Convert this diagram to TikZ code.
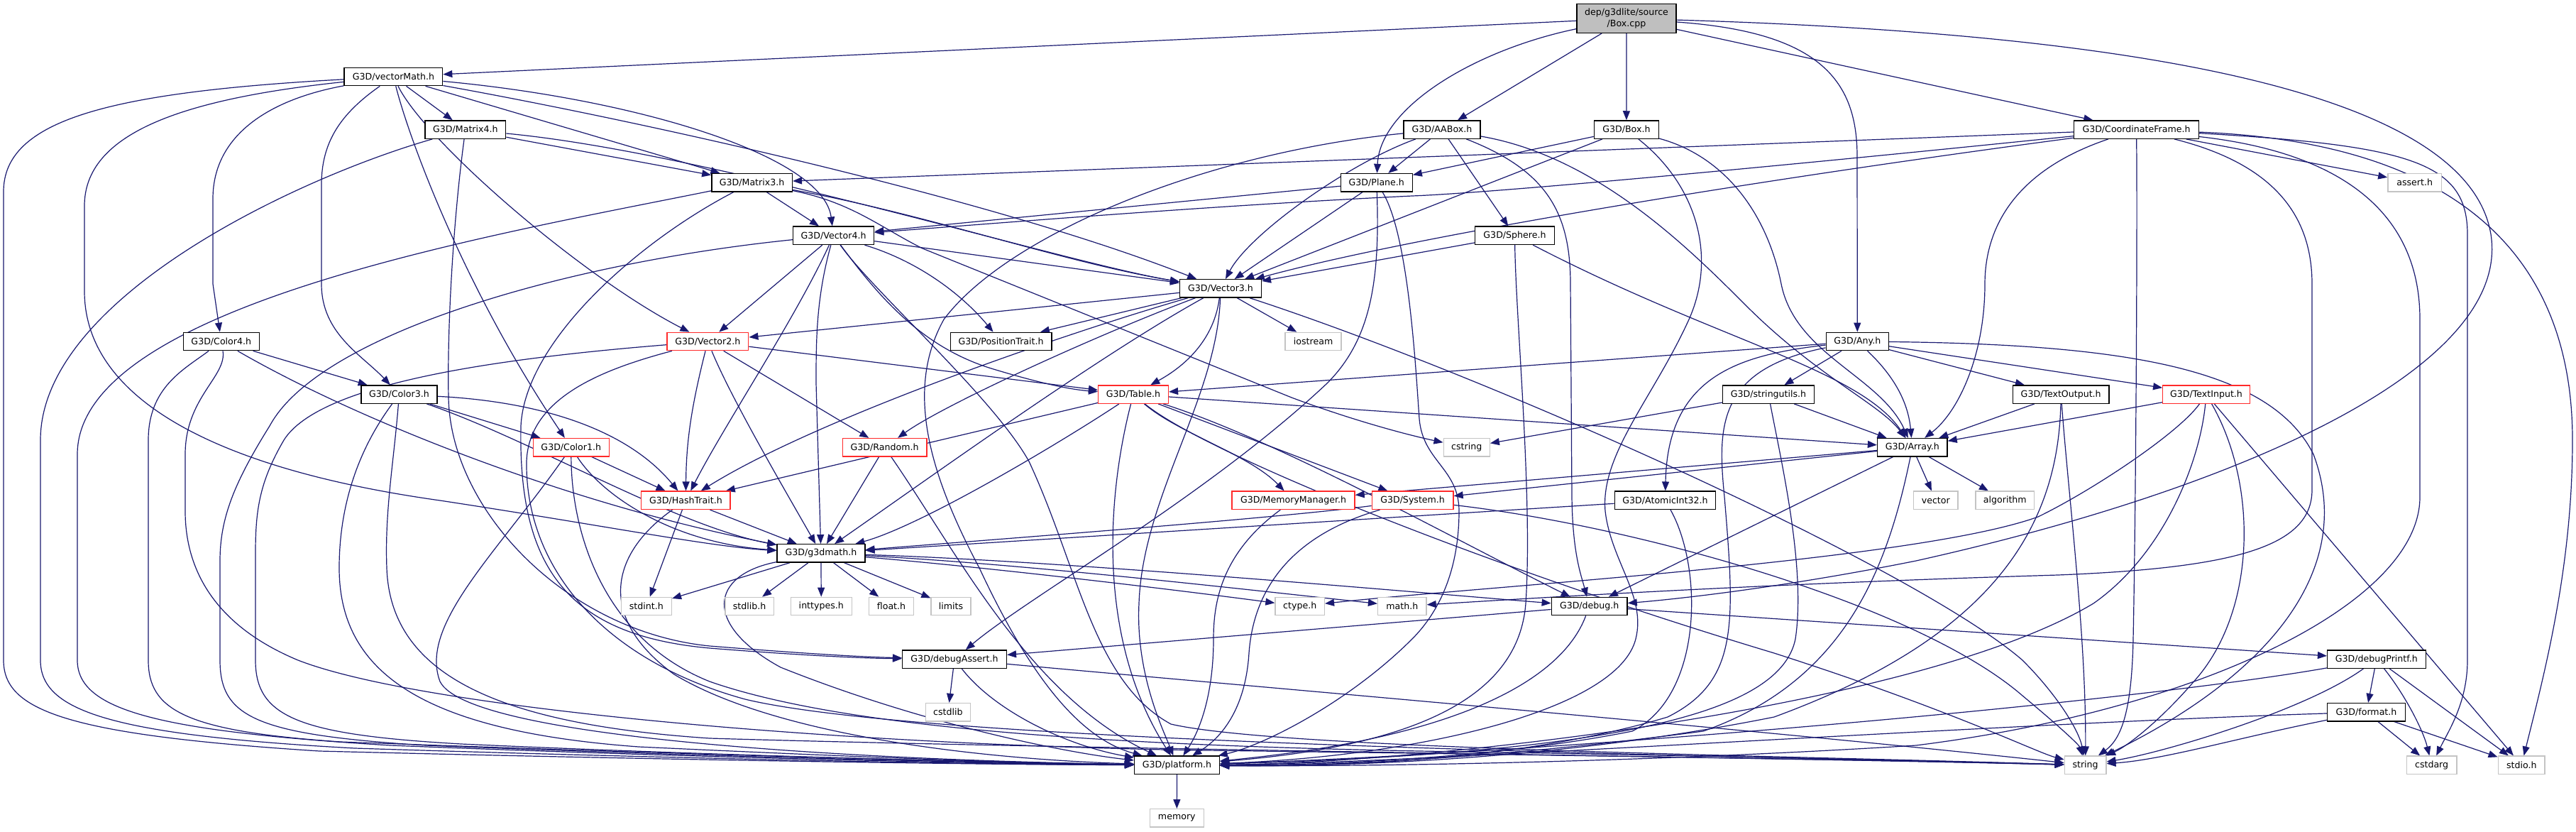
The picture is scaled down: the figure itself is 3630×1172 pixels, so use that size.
\documentclass[tikz,border=0pt]{standalone}
\usepackage{fontspec}
\newfontfamily\gfont{DejaVu Sans}
\usetikzlibrary{arrows.meta}
\definecolor{edgec}{HTML}{191970}
\definecolor{redb}{HTML}{FF2A2A}
\definecolor{lgray}{HTML}{C4C4C4}
\definecolor{rootgray}{HTML}{BFBFBF}
\pgfdeclarelayer{bgl}
\pgfdeclarelayer{edgel}
\pgfsetlayers{bgl,edgel,main}
\tikzset{
  nb/.style={draw=black, fill=white, line width=0.7pt, inner sep=0pt, minimum height=12.65pt,
    font=\gfont\fontsize{6.3pt}{7.6pt}\selectfont},
  rb/.style={nb, draw=redb},
  gb/.style={nb, draw=lgray},
  rootb/.style={nb, fill=rootgray, minimum height=20.3pt, align=center},
  bw/.style={minimum width=#1*0.5pt},
  lnk/.style={draw=edgec, line width=0.6pt, -{Triangle[length=6.5pt,width=5pt]}}
}
\begin{document}
\begin{tikzpicture}[x=0.5pt,y=-0.5pt]
\begin{pgfonlayer}{bgl}
\fill[white] (0,0) rectangle (3630,1172);
\end{pgfonlayer}
\useasboundingbox (0,0) rectangle (3630,1172);
% ---------------- nodes ----------------
\node[rootb, bw=140] (root) at (2292,26) {dep/g3dlite/source\\/Box.cpp};
\node[nb, bw=138.5] (vm) at (554.4,108) {G3D/vectorMath.h};
\node[nb, bw=113.6] (m4) at (655.9,182.6) {G3D/Matrix4.h};
\node[nb, bw=108] (aab) at (2031.9,182.6) {G3D/AABox.h};
\node[nb, bw=91] (bx) at (2291.9,182.6) {G3D/Box.h};
\node[nb, bw=175.7] (cf) at (3010.5,182.6) {G3D/CoordinateFrame.h};
\node[nb, bw=113.5] (m3) at (1059.6,257.2) {G3D/Matrix3.h};
\node[nb, bw=100.8] (pl) at (1939.8,257.2) {G3D/Plane.h};
\node[gb, bw=75.5] (ast) at (3402.6,257.2) {assert.h};
\node[nb, bw=114] (v4) at (1174.6,331.8) {G3D/Vector4.h};
\node[nb, bw=111.5] (sph) at (2134.5,331.8) {G3D/Sphere.h};
\node[nb, bw=114.7] (v3) at (1720,406.4) {G3D/Vector3.h};
\node[nb, bw=107.2] (c4) at (311.8,481) {G3D/Color4.h};
\node[rb, bw=114.7] (v2) at (997.4,481) {G3D/Vector2.h};
\node[nb, bw=142.7] (pt) at (1410.6,481) {G3D/PositionTrait.h};
\node[gb, bw=79] (ios) at (1850.6,481) {iostream};
\node[nb, bw=88.2] (any) at (2617.3,481) {G3D/Any.h};
\node[nb, bw=107] (c3) at (562.5,555.6) {G3D/Color3.h};
\node[rb, bw=98.8] (tbl) at (1597,555.6) {G3D/Table.h};
\node[nb, bw=128.5] (su) at (2492,555.6) {G3D/stringutils.h};
\node[nb, bw=135.2] (to) at (2904.2,555.6) {G3D/TextOutput.h};
\node[rb, bw=122.5] (ti) at (3109,555.6) {G3D/TextInput.h};
\node[rb, bw=106.8] (c1) at (804.8,630.2) {G3D/Color1.h};
\node[rb, bw=118.8] (rnd) at (1246.6,630.2) {G3D/Random.h};
\node[gb, bw=65] (cstr) at (2066.7,630.2) {cstring};
\node[nb, bw=98.5] (arr) at (2694.8,630.2) {G3D/Array.h};
\node[rb, bw=125.3] (ht) at (966.4,704.8) {G3D/HashTrait.h};
\node[rb, bw=173] (mm) at (1822.5,704.8) {G3D/MemoryManager.h};
\node[rb, bw=114.7] (sys) at (1990.6,704.8) {G3D/System.h};
\node[nb, bw=142.3] (ai) at (2346.5,704.8) {G3D/AtomicInt32.h};
\node[gb, bw=62.5] (vec) at (2727.8,704.8) {vector};
\node[gb, bw=82.6] (alg) at (2825.3,704.8) {algorithm};
\node[nb, bw=123.8] (gm) at (1156.9,779.4) {G3D/g3dmath.h};
\node[gb, bw=71.2] (sint) at (910.8,854) {stdint.h};
\node[gb, bw=68.4] (slib) at (1056.1,854) {stdlib.h};
\node[gb, bw=85.8] (ity) at (1157.3,854) {inttypes.h};
\node[gb, bw=62.9] (flt) at (1256,854) {float.h};
\node[gb, bw=56.1] (lim) at (1340,854) {limits};
\node[gb, bw=69.3] (cty) at (1831.7,854) {ctype.h};
\node[gb, bw=68.4] (mth) at (1975.8,854) {math.h};
\node[nb, bw=106.8] (dbg) at (2239.7,854) {G3D/debug.h};
\node[nb, bw=146.7] (da) at (1345,928.6) {G3D/debugAssert.h};
\node[nb, bw=138.6] (dp) at (3348.9,928.6) {G3D/debugPrintf.h};
\node[gb, bw=62.9] (csl) at (1335.9,1003.2) {cstdlib};
\node[nb, bw=109.7] (fmt) at (3334.5,1003.2) {G3D/format.h};
\node[nb, bw=119.8] (pf) at (1658.5,1077.8) {G3D/platform.h};
\node[gb, bw=58.5] (str) at (2938.6,1077.8) {string};
\node[gb, bw=70.7] (cda) at (3426.6,1077.8) {cstdarg};
\node[gb, bw=65.9] (sio) at (3553.2,1077.8) {stdio.h};
\node[gb, bw=75.9] (mem) at (1658.3,1152.4) {memory};
% ---------------- edges ----------------
\begin{pgfonlayer}{edgel}
% root
\draw[lnk] (root) -- (vm);
\draw[lnk] (root) -- (aab);
\draw[lnk] (root) .. controls (2080,70) and (1945,150) .. (pl);
\draw[lnk] (root) -- (bx);
\draw[lnk] (root) .. controls (2560,45) and (2617,110) .. (2617,220) -- (any);
\draw[lnk] (root) -- (cf);
\draw[lnk] (root) .. controls (3100,50) and (3480,150) .. (3510,330) .. controls (3540,520) and (3150,690) .. (2700,790) .. controls (2500,830) and (2350,845) .. (dbg);
% vectorMath
\draw[lnk] (vm) .. controls (150,130) and (5,170) .. (5,270) -- (5,930) .. controls (5,1000) and (90,1035) .. (450,1058) .. controls (1000,1072) and (1400,1077) .. (pf);
\draw[lnk] (vm) .. controls (250,140) and (119,190) .. (119,290) -- (119,410) .. controls (119,560) and (300,660) .. (620,705) .. controls (850,740) and (1000,770) .. (gm);
\draw[lnk] (vm) .. controls (380,140) and (300,190) .. (300,280) -- (300,400) -- (c4);
\draw[lnk] (vm) .. controls (480,160) and (453,200) .. (453,260) -- (453,400) .. controls (453,470) and (510,500) .. (c3);
\draw[lnk] (vm) .. controls (575,190) and (650,400) .. (c1);
\draw[lnk] (vm) .. controls (600,200) and (820,390) .. (v2);
\draw[lnk] (vm) -- (m4);
\draw[lnk] (vm) -- (m3);
\draw[lnk] (vm) .. controls (900,140) and (1160,220) .. (v4);
\draw[lnk] (vm) .. controls (900,170) and (1400,280) .. (v3);
% Matrix4
\draw[lnk] (m4) .. controls (420,250) and (57,420) .. (57,620) -- (57,930) .. controls (57,1000) and (150,1035) .. (500,1054) .. controls (1000,1070) and (1400,1077) .. (pf);
\draw[lnk] (m4) .. controls (640,300) and (630,450) .. (632,560) .. controls (635,720) and (800,890) .. (1000,910) .. controls (1100,918) and (1200,925) .. (da);
\draw[lnk] (m4) -- (m3);
\draw[lnk] (m4) .. controls (1000,215) and (1500,370) .. (v3);
% Matrix3
\draw[lnk] (m3) .. controls (700,330) and (109,430) .. (109,640) -- (109,930) .. controls (109,1000) and (220,1030) .. (550,1050) .. controls (1000,1068) and (1400,1076) .. (pf);
\draw[lnk] (m3) -- (v4);
\draw[lnk] (m3) .. controls (1300,300) and (1500,370) .. (v3);
\draw[lnk] (m3) .. controls (1200,285) and (1240,320) .. (1300,350) -- (1820,560) .. controls (1900,590) and (1980,612) .. (cstr);
\draw[lnk] (m3) .. controls (900,340) and (740,480) .. (734,600) .. controls (730,800) and (800,895) .. (1000,913) .. controls (1100,921) and (1200,927) .. (da);
% Vector4
\draw[lnk] (v4) .. controls (800,370) and (450,470) .. (380,600) .. controls (330,680) and (310,730) .. (310,790) -- (310,930) .. controls (310,1010) and (360,1035) .. (600,1050) .. controls (1000,1066) and (1400,1075) .. (pf);
\draw[lnk] (v4) -- (v2);
\draw[lnk] (v4) .. controls (1120,450) and (1020,600) .. (ht);
\draw[lnk] (v4) .. controls (1150,420) and (1150,480) .. (1150,540) -- (gm);
\draw[lnk] (v4) -- (v3);
\draw[lnk] (v4) .. controls (1300,370) and (1360,420) .. (pt);
\draw[lnk] (v4) .. controls (1240,420) and (1300,490) .. (1400,520) .. controls (1450,535) and (1500,548) .. (tbl);
\draw[lnk] (v4) .. controls (1230,410) and (1400,560) .. (1450,650) .. controls (1520,800) and (1540,960) .. (1650,1020) .. controls (1800,1055) and (2500,1064) .. (str);
% Vector3
\draw[lnk] (v3) -- (v2);
\draw[lnk] (v3) -- (pt);
\draw[lnk] (v3) .. controls (1500,470) and (1150,590) .. (ht);
\draw[lnk] (v3) .. controls (1550,470) and (1330,570) .. (rnd);
\draw[lnk] (v3) .. controls (1550,500) and (1300,680) .. (gm);
\draw[lnk] (v3) .. controls (1712,470) and (1680,510) .. (tbl);
\draw[lnk] (v3) .. controls (1715,560) and (1610,700) .. (1605,850) .. controls (1600,950) and (1640,1030) .. (pf);
\draw[lnk] (v3) -- (ios);
\draw[lnk] (v3) .. controls (2100,530) and (2700,800) .. (2850,930) .. controls (2900,980) and (2930,1030) .. (str);
% Vector2
\draw[lnk] (v2) -- (tbl);
\draw[lnk] (v2) -- (rnd);
\draw[lnk] (v2) .. controls (1030,560) and (1100,680) .. (gm);
\draw[lnk] (v2) .. controls (975,570) and (967,620) .. (ht);
\draw[lnk] (v2) .. controls (700,505) and (450,540) .. (400,620) .. controls (365,680) and (360,720) .. (360,780) -- (360,930) .. controls (360,1010) and (420,1035) .. (650,1048) .. controls (1000,1064) and (1400,1074) .. (pf);
\draw[lnk] (v2) .. controls (850,520) and (745,560) .. (742,650) .. controls (740,800) and (850,930) .. (1050,985) .. controls (1300,1045) and (2300,1062) .. (str);
% Color4
\draw[lnk] (c4) .. controls (260,520) and (209,545) .. (209,620) -- (209,930) .. controls (209,1000) and (260,1030) .. (480,1045) .. controls (1000,1064) and (1400,1074) .. (pf);
\draw[lnk] (c4) .. controls (320,530) and (261,560) .. (261,640) -- (261,720) .. controls (261,800) and (300,880) .. (420,930) .. controls (600,1000) and (1200,1050) .. (1700,1057) .. controls (2300,1065) and (2700,1072) .. (str);
\draw[lnk] (c4) .. controls (500,590) and (800,710) .. (gm);
\draw[lnk] (c4) -- (c3);
% Color3
\draw[lnk] (c3) -- (c1);
\draw[lnk] (c3) .. controls (750,565) and (880,600) .. (ht);
\draw[lnk] (c3) .. controls (750,620) and (950,740) .. (gm);
\draw[lnk] (c3) .. controls (500,640) and (478,720) .. (478,800) .. controls (478,950) and (600,1030) .. (900,1052) .. controls (1200,1066) and (1400,1074) .. (pf);
\draw[lnk] (c3) .. controls (555,650) and (542,720) .. (545,800) .. controls (550,950) and (700,1020) .. (1000,1040) .. controls (1500,1055) and (2400,1065) .. (str);
% Color1
\draw[lnk] (c1) -- (ht);
\draw[lnk] (c1) .. controls (850,700) and (950,765) .. (gm);
\draw[lnk] (c1) .. controls (700,780) and (590,880) .. (620,960) .. controls (660,1040) and (1200,1070) .. (pf);
\draw[lnk] (c1) .. controls (805,750) and (850,900) .. (1000,960) .. controls (1200,1030) and (1600,1050) .. (2000,1058) .. controls (2500,1066) and (2800,1074) .. (str);
% HashTrait
\draw[lnk] (ht) -- (gm);
\draw[lnk] (ht) -- (sint);
\draw[lnk] (ht) .. controls (860,780) and (840,870) .. (950,950) .. controls (1100,1040) and (1400,1070) .. (pf);
% Random
\draw[lnk] (rnd) -- (gm);
\draw[lnk] (rnd) .. controls (1350,780) and (1450,980) .. (pf);
% g3dmath
\draw[lnk] (gm) -- (sint);
\draw[lnk] (gm) -- (slib);
\draw[lnk] (gm) -- (ity);
\draw[lnk] (gm) -- (flt);
\draw[lnk] (gm) -- (lim);
\draw[lnk] (gm) .. controls (1400,800) and (1650,830) .. (cty);
\draw[lnk] (gm) .. controls (1450,795) and (1750,830) .. (mth);
\draw[lnk] (gm) .. controls (1500,790) and (2000,835) .. (dbg);
\draw[lnk] (gm) .. controls (1000,810) and (990,880) .. (1100,940) .. controls (1300,1020) and (1500,1060) .. (pf);
% Table
\draw[lnk] (tbl) -- (arr);
\draw[lnk] (tbl) -- (ht);
\draw[lnk] (tbl) .. controls (1500,620) and (1300,740) .. (gm);
\draw[lnk] (tbl) .. controls (1560,700) and (1545,900) .. (pf);
\draw[lnk] (tbl) .. controls (1660,610) and (1760,640) .. (mm);
\draw[lnk] (tbl) -- (sys);
\draw[lnk] (tbl) .. controls (1800,620) and (2050,760) .. (dbg);
\draw[lnk] (tbl) .. controls (1700,640) and (2100,800) .. (2500,920) .. controls (2750,1000) and (2870,1060) .. (str);
% MemoryManager
\draw[lnk] (mm) .. controls (1720,780) and (1710,850) .. (1710,900) .. controls (1710,980) and (1690,1030) .. (pf);
% System
\draw[lnk] (sys) .. controls (1800,730) and (1400,760) .. (gm);
\draw[lnk] (sys) .. controls (1800,760) and (1765,850) .. (1760,920) .. controls (1755,1000) and (1720,1040) .. (pf);
\draw[lnk] (sys) .. controls (2300,740) and (2700,850) .. (2850,980) .. controls (2910,1030) and (2930,1050) .. (str);
% Array
\draw[lnk] (arr) -- (vec);
\draw[lnk] (arr) -- (alg);
\draw[lnk] (arr) -- (mm);
\draw[lnk] (arr) -- (sys);
\draw[lnk] (arr) -- (dbg);
\draw[lnk] (arr) .. controls (2660,800) and (2600,960) .. (2400,1030) .. controls (2100,1070) and (1850,1080) .. (pf);
% AtomicInt32
\draw[lnk] (ai) -- (gm);
\draw[lnk] (ai) .. controls (2400,800) and (2400,980) .. (2300,1030) .. controls (2100,1070) and (1850,1078) .. (pf);
% stringutils
\draw[lnk] (su) -- (arr);
\draw[lnk] (su) -- (cstr);
\draw[lnk] (su) .. controls (2510,650) and (2545,800) .. (2530,900) .. controls (2510,1000) and (2300,1060) .. (pf);
% TextOutput
\draw[lnk] (to) -- (arr);
\draw[lnk] (to) .. controls (2915,700) and (2940,900) .. (str);
\draw[lnk] (to) .. controls (2900,750) and (2800,900) .. (2500,1010) .. controls (2200,1070) and (1900,1080) .. (pf);
% TextInput
\draw[lnk] (ti) -- (arr);
\draw[lnk] (ti) .. controls (3070,610) and (2950,690) .. (2872,728) .. controls (2700,790) and (2100,825) .. (cty);
\draw[lnk] (ti) .. controls (3100,650) and (3050,780) .. (2950,850) .. controls (2700,1000) and (2000,1075) .. (pf);
\draw[lnk] (ti) .. controls (3180,680) and (3180,850) .. (3100,950) .. controls (3050,1010) and (3000,1050) .. (str);
\draw[lnk] (ti) -- (sio);
% Any
\draw[lnk] (any) -- (tbl);
\draw[lnk] (any) .. controls (2680,540) and (2690,580) .. (arr);
\draw[lnk] (any) .. controls (2450,500) and (2350,530) .. (ai);
\draw[lnk] (any) -- (su);
\draw[lnk] (any) -- (to);
\draw[lnk] (any) -- (ti);
\draw[lnk] (any) .. controls (3000,485) and (3200,520) .. (3260,640) .. controls (3320,800) and (3200,950) .. (str);
\draw[lnk] (any) .. controls (2420,520) and (2420,600) .. (2430,700) .. controls (2445,880) and (2450,960) .. (2350,1010) .. controls (2150,1070) and (1900,1080) .. (pf);
% CoordinateFrame
\draw[lnk] (cf) -- (m3);
\draw[lnk] (cf) .. controls (2500,235) and (2100,272) .. (1990,276) .. controls (1700,290) and (1400,315) .. (v4);
\draw[lnk] (cf) .. controls (2500,250) and (2000,330) .. (v3);
\draw[lnk] (cf) .. controls (2840,240) and (2797,320) .. (2797,400) .. controls (2797,500) and (2760,580) .. (arr);
\draw[lnk] (cf) .. controls (3012,300) and (3010,700) .. (3006,900) .. controls (3004,1000) and (2990,1040) .. (str);
\draw[lnk] (cf) .. controls (3200,230) and (3258,300) .. (3258,400) -- (3258,690) .. controls (3258,770) and (3150,800) .. (2900,810) .. controls (2500,822) and (2200,840) .. (mth);
\draw[lnk] (cf) .. controls (3300,215) and (3410,300) .. (3410,450) -- (3410,700) .. controls (3410,850) and (3100,1000) .. (2700,1050) .. controls (2300,1075) and (1900,1080) .. (pf);
\draw[lnk] (cf) -- (ast);
\draw[lnk] (cf) .. controls (3450,200) and (3625,350) .. (3625,620) .. controls (3625,800) and (3585,950) .. (sio);
\draw[lnk] (cf) .. controls (3400,205) and (3477,230) .. (3477,330) -- (3477,930) .. controls (3477,990) and (3450,1030) .. (cda);
% AABox
\draw[lnk] (aab) -- (pl);
\draw[lnk] (aab) -- (sph);
\draw[lnk] (aab) .. controls (1900,230) and (1760,330) .. (v3);
\draw[lnk] (aab) .. controls (1700,215) and (1420,330) .. (1330,450) .. controls (1280,540) and (1300,650) .. (1380,800) .. controls (1450,950) and (1520,1040) .. (pf);
\draw[lnk] (aab) .. controls (2180,240) and (2213,300) .. (2213,400) -- (2215,700) .. controls (2216,780) and (2228,810) .. (dbg);
\draw[lnk] (aab) .. controls (2250,220) and (2380,350) .. (2460,430) .. controls (2560,530) and (2650,570) .. (arr);
% Box.h
\draw[lnk] (bx) -- (pl);
\draw[lnk] (bx) -- (v3);
\draw[lnk] (bx) .. controls (2390,260) and (2420,360) .. (2380,450) .. controls (2330,560) and (2255,640) .. (2262,720) .. controls (2270,790) and (2320,840) .. (2305,900) .. controls (2280,1000) and (2000,1065) .. (pf);
\draw[lnk] (bx) .. controls (2430,220) and (2490,300) .. (2510,400) .. controls (2530,500) and (2650,530) .. (arr);
% Plane
\draw[lnk] (pl) -- (v4);
\draw[lnk] (pl) -- (v3);
\draw[lnk] (pl) .. controls (1945,400) and (1930,480) .. (1870,540) .. controls (1700,700) and (1450,840) .. (da);
\draw[lnk] (pl) .. controls (1985,330) and (1995,520) .. (2000,590) .. controls (2005,650) and (2056,660) .. (2056,720) .. controls (2056,800) and (2030,860) .. (1990,900) .. controls (1900,990) and (1780,1050) .. (pf);
% Sphere
\draw[lnk] (sph) -- (v3);
\draw[lnk] (sph) .. controls (2136,450) and (2160,700) .. (2150,850) .. controls (2140,980) and (2000,1050) .. (pf);
\draw[lnk] (sph) .. controls (2420,480) and (2620,520) .. (arr);
% debug
\draw[lnk] (dbg) -- (da);
\draw[lnk] (dbg) -- (dp);
\draw[lnk] (dbg) .. controls (2200,960) and (2050,1040) .. (pf);
% debugAssert
\draw[lnk] (da) -- (csl);
\draw[lnk] (da) .. controls (1400,1000) and (1500,1050) .. (pf);
\draw[lnk] (da) .. controls (1800,970) and (2500,1030) .. (str);
% debugPrintf
\draw[lnk] (dp) -- (fmt);
\draw[lnk] (dp) .. controls (3390,980) and (3415,1030) .. (cda);
\draw[lnk] (dp) -- (sio);
\draw[lnk] (dp) .. controls (3000,990) and (2200,1060) .. (pf);
\draw[lnk] (dp) .. controls (3250,1000) and (3050,1060) .. (str);
% format
\draw[lnk] (fmt) -- (cda);
\draw[lnk] (fmt) -- (sio);
\draw[lnk] (fmt) .. controls (2800,1020) and (2000,1075) .. (pf);
\draw[lnk] (fmt) .. controls (3150,1040) and (3050,1070) .. (str);
% platform
\draw[lnk] (pf) -- (mem);
\end{pgfonlayer}
\end{tikzpicture}
\end{document}
